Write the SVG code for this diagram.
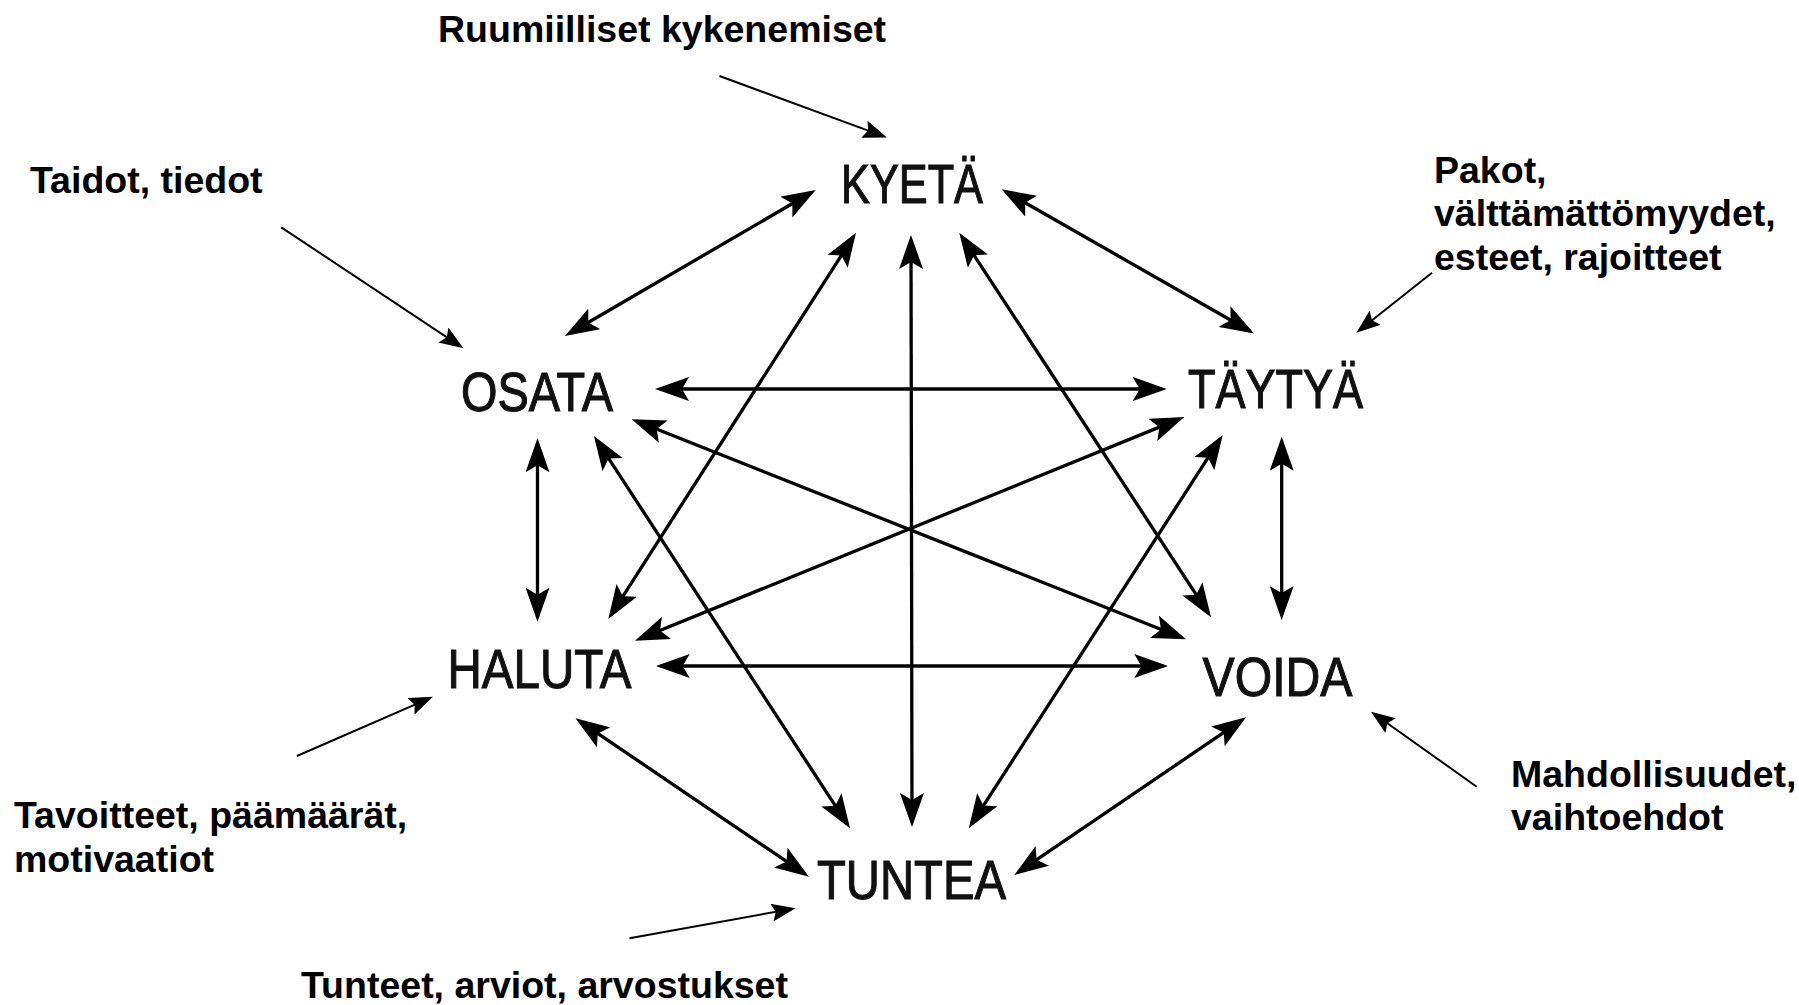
<svg xmlns="http://www.w3.org/2000/svg" width="1799" height="1005" viewBox="0 0 1799 1005">
<style>
.node{font-family:"Liberation Sans",Arial,sans-serif;font-size:55px;fill:#111;stroke:#111;stroke-width:1.1;text-anchor:middle}
.lab{font-family:"Liberation Sans",Arial,sans-serif;font-size:37.5px;font-weight:bold;fill:#000}
.thick{stroke:#000;stroke-width:3.3;fill:none;marker-start:url(#hb);marker-end:url(#hb)}
.thin{stroke:#000;stroke-width:2;fill:none;marker-end:url(#hs)}
</style>
<defs>
<marker id="hb" viewBox="0 0 34 24" markerWidth="34" markerHeight="24" refX="29" refY="12" markerUnits="userSpaceOnUse" orient="auto-start-reverse">
<path d="M0,0 L34,12 L0,24 L7,12 z" fill="#000"/>
</marker>
<marker id="hs" viewBox="0 0 24 18" markerWidth="24" markerHeight="18" refX="20" refY="9" markerUnits="userSpaceOnUse" orient="auto">
<path d="M0,0 L24,9 L0,18 L4,9 z" fill="#000"/>
</marker>
</defs>
<rect width="1799" height="1005" fill="#fff"/>
<g id="connectors">
<line class="thick" x1="569.3" y1="333.5" x2="811.4" y2="192.5"/>
<line class="thick" x1="1006" y1="191.8" x2="1249.7" y2="331"/>
<line class="thick" x1="660" y1="389" x2="1161.7" y2="389"/>
<line class="thick" x1="537.5" y1="443.3" x2="537.5" y2="616.7"/>
<line class="thick" x1="1281.7" y1="441.7" x2="1281.7" y2="615"/>
<line class="thick" x1="660.7" y1="666" x2="1163.3" y2="666"/>
<line class="thick" x1="579.6" y1="721.1" x2="804.8" y2="873.9"/>
<line class="thick" x1="1241.9" y1="720.1" x2="1018.4" y2="872.2"/>
<line class="thick" x1="911" y1="240" x2="912" y2="822"/>
<line class="thick" x1="853.3" y1="236.9" x2="611" y2="614.8"/>
<line class="thick" x1="962" y1="236.9" x2="1208.3" y2="613.1"/>
<line class="thick" x1="636.3" y1="421" x2="1181.4" y2="637.5"/>
<line class="thick" x1="596.7" y1="440.2" x2="847.3" y2="824.1"/>
<line class="thick" x1="1179.7" y1="418.9" x2="639.6" y2="638.8"/>
<line class="thick" x1="1220" y1="439.2" x2="971.5" y2="824.1"/>
<line class="thin" x1="719.5" y1="76" x2="883.2" y2="136.1"/>
<line class="thin" x1="281.3" y1="227.3" x2="460.1" y2="346.1"/>
<line class="thin" x1="1432" y1="272.7" x2="1359.5" y2="330.2"/>
<line class="thin" x1="296.9" y1="756" x2="429.3" y2="698.3"/>
<line class="thin" x1="1476.7" y1="786.7" x2="1374.3" y2="714"/>
<line class="thin" x1="629.5" y1="938.3" x2="791.6" y2="909"/>
</g>
<g id="kyeta"><text class="node" x="912" y="203" textLength="142" lengthAdjust="spacingAndGlyphs">KYETÄ</text></g>
<g id="osata"><text class="node" x="537" y="411" textLength="152" lengthAdjust="spacingAndGlyphs">OSATA</text></g>
<g id="taytya"><text class="node" x="1275.5" y="408" textLength="175" lengthAdjust="spacingAndGlyphs">TÄYTYÄ</text></g>
<g id="haluta"><text class="node" x="539.5" y="688" textLength="184" lengthAdjust="spacingAndGlyphs">HALUTA</text></g>
<g id="voida"><text class="node" x="1277.5" y="696" textLength="150" lengthAdjust="spacingAndGlyphs">VOIDA</text></g>
<g id="tuntea"><text class="node" x="911.5" y="899" textLength="189" lengthAdjust="spacingAndGlyphs">TUNTEA</text></g>
<g id="label-ruumiilliset"><text class="lab" x="438" y="42">Ruumiilliset kykenemiset</text></g>
<g id="label-taidot"><text class="lab" x="30" y="193">Taidot, tiedot</text></g>
<g id="label-pakot"><text class="lab" x="1434" y="183">Pakot,</text><text class="lab" x="1434" y="226">välttämättömyydet,</text><text class="lab" x="1434" y="270">esteet, rajoitteet</text></g>
<g id="label-tavoitteet"><text class="lab" x="14" y="828">Tavoitteet, päämäärät,</text><text class="lab" x="14" y="872">motivaatiot</text></g>
<g id="label-mahdollisuudet"><text class="lab" x="1511" y="787">Mahdollisuudet,</text><text class="lab" x="1511" y="830">vaihtoehdot</text></g>
<g id="label-tunteet"><text class="lab" x="301" y="998">Tunteet, arviot, arvostukset</text></g>
</svg>
